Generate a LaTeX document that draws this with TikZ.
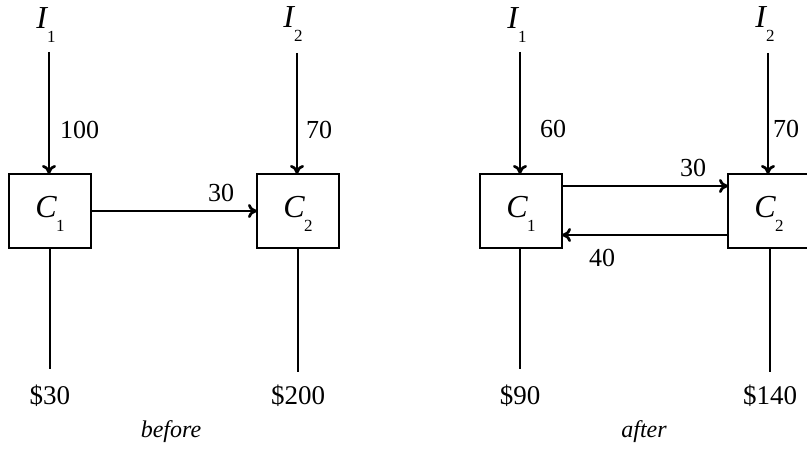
\documentclass[tikz,border=0pt]{standalone}
\usepackage{fontspec}
\setmainfont{Liberation Serif}
\usetikzlibrary{arrows.meta}
% italic letter with a low subscript digit
\newcommand\letsub[2]{\textit{#1}\kern-1pt\raisebox{-14pt}{\fontsize{17}{17}\selectfont #2}}
\begin{document}
\begin{tikzpicture}[x=1pt,y=-1pt,
  box/.style={draw,line width=2.7pt,minimum width=82pt,minimum height=74pt,inner sep=0pt,outer sep=0pt},
  sym/.style={font=\fontsize{32}{32}\selectfont,inner sep=0pt,anchor=base},
  num/.style={font=\fontsize{26}{26}\selectfont,inner sep=0pt},
  money/.style={font=\fontsize{27}{27}\selectfont,inner sep=0pt},
  caption/.style={font=\fontsize{24}{24}\selectfont\itshape,inner sep=0pt},
  flow/.style={line width=2.7pt,-{To[length=9pt,width=14pt]}},
  thin/.style={line width=1.3pt}]
\useasboundingbox (0,0) rectangle (807,449);

% ---------- before ----------
\node[box] (c1) at (50,211) {};
\node[box] (c2) at (298,211) {};
\node[sym] (c1t) at (50,218) {\letsub{C}{1}};
\node[sym] (c2t) at (298,218) {\letsub{C}{2}};
\node[sym] (i1) at (46,29) {\letsub{I}{1}};
\node[sym] (i2) at (293,28) {\letsub{I}{2}};
\coordinate (i1s) at (49,52);
\coordinate (i2s) at (297,53);
\draw[flow] (i1s) -- (i1s |- c1.north);
\draw[flow] (i2s) -- (i2s |- c2.north);
\node[num,anchor=west] (n100) at (60,130) {100};
\node[num,anchor=west] (n70) at (306,130) {70};
\draw[flow] (c1.east) -- (c2.west);
\node[num] (n30) at (221,193) {30};
\node[money] (m30) at (50,396) {\$30};
\node[money] (m200) at (298,396) {\$200};
\coordinate (d1) at (50,369);
\coordinate (d2) at (298,372);
\draw[thin] (c1.south) -- (d1);
\draw[thin] (c2.south) -- (d2);
\node[caption] (before) at (171,432) {before};

% ---------- after ----------
\node[box] (a1) at (521,211) {};
\node[box] (a2) at (769,211) {};
\node[sym] (a1t) at (521,218) {\letsub{C}{1}};
\node[sym] (a2t) at (769,218) {\letsub{C}{2}};
\node[sym] (j1) at (517,29) {\letsub{I}{1}};
\node[sym] (j2) at (765,28) {\letsub{I}{2}};
\coordinate (j1s) at (520,52);
\coordinate (j2s) at (768,53);
\draw[flow] (j1s) -- (j1s |- a1.north);
\draw[flow] (j2s) -- (j2s |- a2.north);
\node[num] (n60) at (553,129) {60};
\node[num] (n70b) at (786,129) {70};
\coordinate (u1) at (a1.east |- 0,186);
\coordinate (u2) at (a2.west |- 0,186);
\coordinate (l1) at (a1.east |- 0,235);
\coordinate (l2) at (a2.west |- 0,235);
\draw[flow] (u1) -- (u2);
\draw[flow] (l2) -- (l1);
\node[num] (n30b) at (693,168) {30};
\node[num] (n40) at (602,258) {40};
\node[money] (m90) at (520,396) {\$90};
\node[money] (m140) at (770,396) {\$140};
\coordinate (e1) at (520,369);
\coordinate (e2) at (770,372);
\draw[thin] (a1.south -| e1) -- (e1);
\draw[thin] (a2.south -| e2) -- (e2);
\node[caption] (after) at (644,432) {after};
\end{tikzpicture}
\end{document}
